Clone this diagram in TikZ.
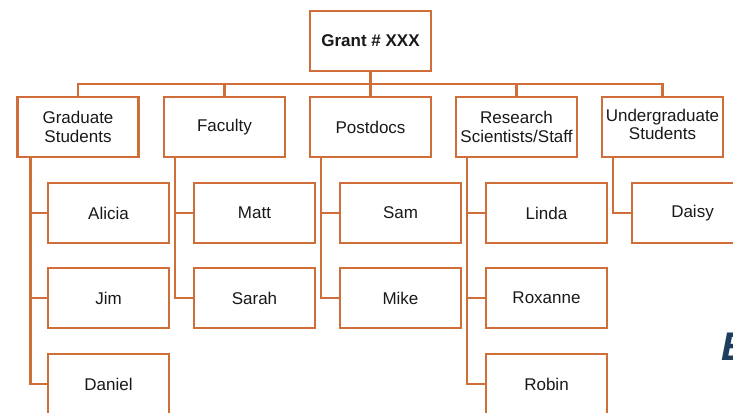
\documentclass[tikz,border=0pt]{standalone}
\usepackage{fontspec}
\setmainfont{Liberation Sans}
\definecolor{orgline}{RGB}{208,110,58}
\definecolor{txt}{RGB}{25,25,25}
\definecolor{navyE}{RGB}{30,62,94}
\begin{document}
\begin{tikzpicture}[x=1pt,y=-1pt,
  box/.style={draw=orgline,line width=2.2pt,fill=white,minimum width=121pt,minimum height=60pt,inner sep=0pt,
    align=center,font=\fontsize{17}{19.5}\selectfont,text=txt},
  conn/.style={draw=orgline,line width=2.2pt}]
\useasboundingbox (0,0) rectangle (733,412);
\clip (0,0) rectangle (733,412);
\fill[white] (0,0) rectangle (733,412);
% top
\node[box,font=\fontsize{17}{19.5}\selectfont\bfseries] (grant) at (370.5,41) {Grant \# XXX};
% level 1
\node[box] (grad) at (78,127) {Graduate\\Students};
\node[box] (fac) at (224.5,127) {Faculty};
\node[box] (post) at (370.5,127) {Postdocs};
\node[box] (res) at (516.5,127) {Research\\Scientists/Staff};
\node[box] (ugrad) at (662.5,127) {\raisebox{6pt}{\begin{tabular}{@{}c@{}}Undergraduate\\[-1.5pt]Students\end{tabular}}};
% level 2
\node[box] (alicia) at (108.5,213) {Alicia};
\node[box] (jim) at (108.5,298) {Jim};
\node[box] (daniel) at (108.5,384) {Daniel};
\node[box] (matt) at (254.5,213) {Matt};
\node[box] (sarah) at (254.5,298) {Sarah};
\node[box] (sam) at (400.5,213) {Sam};
\node[box] (mike) at (400.5,298) {Mike};
\node[box] (linda) at (546.5,213) {Linda};
\node[box] (roxanne) at (546.5,298) {Roxanne};
\node[box] (robin) at (546.5,384) {Robin};
\node[box] (daisy) at (692.5,213) {Daisy};
% bus
\coordinate (bus) at (370.5,84);
\draw[conn] (grant.south) -- (bus);
\draw[conn] (grad.north) |- (bus) -| (ugrad.north);
\draw[conn] (fac.north) |- (bus);
\draw[conn] (post.north) -- (bus);
\draw[conn] (res.north) |- (bus);
% children
\draw[conn] ([xshift=14pt]grad.south west) |- (daniel.west);
\draw[conn] ([xshift=14pt]grad.south west) |- (alicia.west);
\draw[conn] ([xshift=14pt]grad.south west) |- (jim.west);
\draw[conn] ([xshift=12pt]fac.south west) |- (sarah.west);
\draw[conn] ([xshift=12pt]fac.south west) |- (matt.west);
\draw[conn] ([xshift=12pt]post.south west) |- (mike.west);
\draw[conn] ([xshift=12pt]post.south west) |- (sam.west);
\draw[conn] ([xshift=12pt]res.south west) |- (robin.west);
\draw[conn] ([xshift=12pt]res.south west) |- (linda.west);
\draw[conn] ([xshift=12pt]res.south west) |- (roxanne.west);
\draw[conn] ([xshift=12pt]ugrad.south west) |- (daisy.west);
% cut-off letter
\node[anchor=base west,inner sep=0pt,text=navyE,font=\fontsize{40}{40}\selectfont\bfseries\itshape] (eletter) at (721,360) {E};
\end{tikzpicture}
\end{document}
